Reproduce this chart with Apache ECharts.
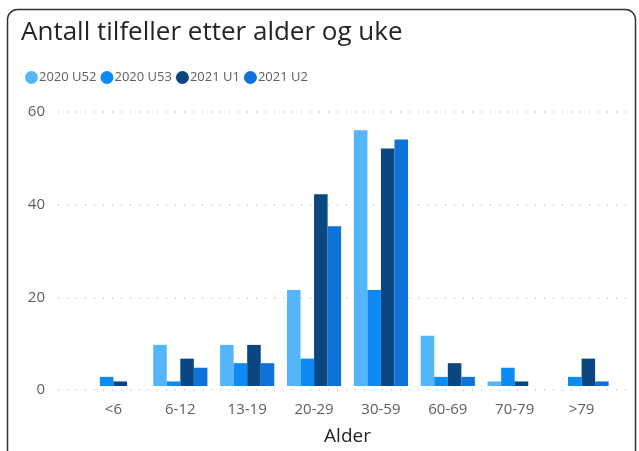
<!DOCTYPE html>
<html>
<head>
<meta charset="utf-8">
<script src="https://cdn.jsdelivr.net/npm/echarts@6/dist/echarts.min.js"></script>
<style>
  html, body { margin: 0; padding: 0; background: #fff; }
  #chart { width: 639px; height: 451px; }
</style>
</head>
<body>
<div id="chart"></div>
<script>
var ageGroups = ['<6', '6-12', '13-19', '20-29', '30-59', '60-69', '70-79', '>79'];
var weekNames = ['2020 U52', '2020 U53', '2021 U1', '2021 U2'];
var u52 = [0, 9, 9, 21, 56, 11, 1, 0];
var u53 = [2, 1, 5, 6, 21, 2, 4, 2];
var u1 = [1, 6, 9, 42, 52, 5, 1, 6];
var u2 = [0, 4, 5, 35, 54, 2, 0, 1];
var yTicks = [0, 20, 40, 60];

var colors = ['#55B5FB', '#0D8BF5', '#0A4682', '#0E72D8'];
var font = '"Open Sans", "Noto Sans", sans-serif';

var chart = echarts.init(document.getElementById('chart'));

function barSeries(name, data, i) {
  return {
    name: name,
    type: 'bar',
    xAxisIndex: 0,
    yAxisIndex: 0,
    data: data,
    barGap: '0%',
    barCategoryGap: '19%',
    itemStyle: { color: colors[i] }
  };
}

chart.setOption({
  animation: false,
  title: {
    text: 'Antall tilfeller etter alder og uke',
    left: 16,
    top: 15,
    textStyle: { fontFamily: font, fontSize: 26, fontWeight: 'normal', color: '#252423' }
  },
  legend: {
    data: weekNames,
    left: 20,
    top: 66,
    icon: 'circle',
    itemWidth: 13,
    itemHeight: 13,
    itemGap: 4,
    textStyle: { fontFamily: font, fontSize: 13, color: '#605E5C', padding: [0, 0, 0, -4] }
  },
  graphic: [{
    type: 'rect',
    shape: { x: 7.5, y: 9.5, width: 628, height: 470, r: 10 },
    style: { fill: 'none', stroke: '#333', lineWidth: 1.5 },
    z: 100
  }],
  grid: [
    { left: 80, right: 24, top: 112, bottom: 61 },
    { left: 58, right: 11, top: 112, bottom: 61 }
  ],
  xAxis: [
    {
      type: 'category',
      gridIndex: 0,
      data: ageGroups,
      name: 'Alder',
      nameLocation: 'middle',
      nameGap: 41,
      nameTextStyle: { fontFamily: font, fontSize: 19, color: '#252423' },
      axisLine: { show: false },
      axisTick: { show: false },
      axisLabel: { fontFamily: font, fontSize: 15, color: '#605E5C', margin: 16 }
    },
    {
      type: 'category',
      gridIndex: 1,
      data: ageGroups,
      show: false
    }
  ],
  yAxis: [
    {
      type: 'value',
      gridIndex: 0,
      min: 0,
      max: 60,
      interval: 20,
      axisLabel: { show: false },
      axisLine: { show: false },
      axisTick: { show: false },
      splitLine: { show: false }
    },
    {
      type: 'value',
      gridIndex: 1,
      min: yTicks[0],
      max: yTicks[yTicks.length - 1],
      interval: 20,
      axisLine: { show: false },
      axisTick: { show: false },
      axisLabel: { fontFamily: font, fontSize: 15, color: '#605E5C', margin: 13 },
      splitLine: { lineStyle: { color: '#C8C6C4', type: [1, 8], width: 1.5 } }
    }
  ],
  series: [
    barSeries(weekNames[0], u52, 0),
    barSeries(weekNames[1], u53, 1),
    barSeries(weekNames[2], u1, 2),
    barSeries(weekNames[3], u2, 3)
  ]
});
</script>
</body>
</html>
